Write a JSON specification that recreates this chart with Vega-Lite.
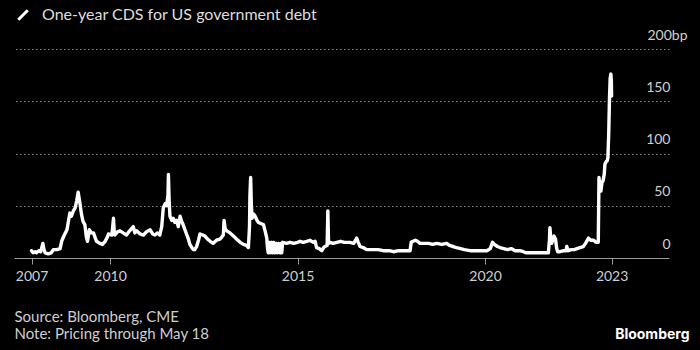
{
  "$schema": "https://vega.github.io/schema/vega-lite/v6.json",
  "width": 655,
  "height": 209,
  "autosize": {"type": "none"},
  "padding": {"left": 14, "top": 49, "right": 31, "bottom": 92},
  "background": "#000000",
  "config": {"view": {"stroke": null}, "font": "Lato"},
  "data": {"values": [
    {"date": "2007-11-28", "cds": 7}, {"date": "2007-12-13", "cds": 5}, {"date": "2008-01-01", "cds": 6}, {"date": "2008-01-15", "cds": 5},
    {"date": "2008-02-06", "cds": 7}, {"date": "2008-02-25", "cds": 6}, {"date": "2008-03-17", "cds": 14}, {"date": "2008-03-28", "cds": 8},
    {"date": "2008-04-08", "cds": 5}, {"date": "2008-05-08", "cds": 4}, {"date": "2008-06-07", "cds": 5}, {"date": "2008-06-28", "cds": 8},
    {"date": "2008-07-31", "cds": 8}, {"date": "2008-09-01", "cds": 9}, {"date": "2008-09-16", "cds": 16}, {"date": "2008-10-12", "cds": 22},
    {"date": "2008-11-07", "cds": 27}, {"date": "2008-12-05", "cds": 43}, {"date": "2008-12-20", "cds": 40}, {"date": "2009-01-08", "cds": 45},
    {"date": "2009-01-26", "cds": 48}, {"date": "2009-02-10", "cds": 55}, {"date": "2009-02-24", "cds": 63}, {"date": "2009-03-14", "cds": 52},
    {"date": "2009-03-28", "cds": 42}, {"date": "2009-04-12", "cds": 35}, {"date": "2009-04-30", "cds": 32}, {"date": "2009-05-15", "cds": 20},
    {"date": "2009-05-26", "cds": 16}, {"date": "2009-06-13", "cds": 27}, {"date": "2009-07-01", "cds": 24}, {"date": "2009-07-23", "cds": 24},
    {"date": "2009-08-21", "cds": 16}, {"date": "2009-09-23", "cds": 14}, {"date": "2009-10-19", "cds": 13}, {"date": "2009-11-14", "cds": 16},
    {"date": "2009-12-05", "cds": 20}, {"date": "2009-12-16", "cds": 23}, {"date": "2010-01-19", "cds": 22}, {"date": "2010-02-03", "cds": 38},
    {"date": "2010-02-10", "cds": 26}, {"date": "2010-02-17", "cds": 22}, {"date": "2010-03-14", "cds": 25}, {"date": "2010-04-08", "cds": 26},
    {"date": "2010-05-08", "cds": 24}, {"date": "2010-06-10", "cds": 22}, {"date": "2010-07-10", "cds": 26}, {"date": "2010-08-15", "cds": 30},
    {"date": "2010-08-30", "cds": 24}, {"date": "2010-09-17", "cds": 26}, {"date": "2010-10-20", "cds": 23}, {"date": "2010-11-22", "cds": 22},
    {"date": "2010-12-20", "cds": 25}, {"date": "2011-01-26", "cds": 27}, {"date": "2011-02-20", "cds": 23}, {"date": "2011-03-14", "cds": 22},
    {"date": "2011-04-08", "cds": 24}, {"date": "2011-04-30", "cds": 22}, {"date": "2011-05-19", "cds": 30}, {"date": "2011-06-03", "cds": 48},
    {"date": "2011-06-21", "cds": 52}, {"date": "2011-07-05", "cds": 50}, {"date": "2011-07-19", "cds": 60}, {"date": "2011-07-23", "cds": 80},
    {"date": "2011-07-30", "cds": 55}, {"date": "2011-08-07", "cds": 40}, {"date": "2011-08-25", "cds": 36}, {"date": "2011-09-09", "cds": 38},
    {"date": "2011-09-24", "cds": 34}, {"date": "2011-10-12", "cds": 36}, {"date": "2011-10-27", "cds": 30}, {"date": "2011-11-14", "cds": 40},
    {"date": "2011-11-29", "cds": 35}, {"date": "2011-12-13", "cds": 32}, {"date": "2012-01-15", "cds": 23}, {"date": "2012-02-03", "cds": 18},
    {"date": "2012-02-17", "cds": 13}, {"date": "2012-03-07", "cds": 10}, {"date": "2012-03-21", "cds": 8}, {"date": "2012-04-05", "cds": 8},
    {"date": "2012-04-23", "cds": 11}, {"date": "2012-05-11", "cds": 17}, {"date": "2012-05-26", "cds": 23}, {"date": "2012-06-21", "cds": 22},
    {"date": "2012-07-13", "cds": 21}, {"date": "2012-08-08", "cds": 18}, {"date": "2012-09-02", "cds": 16}, {"date": "2012-10-01", "cds": 14},
    {"date": "2012-11-03", "cds": 17}, {"date": "2012-12-06", "cds": 18}, {"date": "2012-12-24", "cds": 20}, {"date": "2013-01-08", "cds": 22},
    {"date": "2013-01-15", "cds": 36}, {"date": "2013-01-26", "cds": 28}, {"date": "2013-02-10", "cds": 26}, {"date": "2013-03-14", "cds": 24},
    {"date": "2013-04-16", "cds": 21}, {"date": "2013-05-19", "cds": 18}, {"date": "2013-06-21", "cds": 15}, {"date": "2013-07-23", "cds": 13},
    {"date": "2013-08-22", "cds": 12}, {"date": "2013-09-09", "cds": 10}, {"date": "2013-09-20", "cds": 30}, {"date": "2013-09-24", "cds": 60},
    {"date": "2013-10-01", "cds": 77}, {"date": "2013-10-08", "cds": 50}, {"date": "2013-10-16", "cds": 38}, {"date": "2013-10-30", "cds": 42},
    {"date": "2013-11-14", "cds": 40}, {"date": "2013-12-02", "cds": 36}, {"date": "2013-12-16", "cds": 34}, {"date": "2014-01-08", "cds": 33},
    {"date": "2014-02-03", "cds": 32}, {"date": "2014-02-21", "cds": 25}, {"date": "2014-03-07", "cds": 19}, {"date": "2014-03-14", "cds": 10},
    {"date": "2014-03-21", "cds": 5}, {"date": "2014-04-01", "cds": 15}, {"date": "2014-04-12", "cds": 5}, {"date": "2014-04-23", "cds": 15},
    {"date": "2014-05-05", "cds": 5}, {"date": "2014-05-15", "cds": 15}, {"date": "2014-05-26", "cds": 5}, {"date": "2014-06-07", "cds": 14},
    {"date": "2014-06-18", "cds": 5}, {"date": "2014-07-01", "cds": 14}, {"date": "2014-07-13", "cds": 5}, {"date": "2014-07-23", "cds": 14},
    {"date": "2014-07-31", "cds": 5}, {"date": "2014-08-08", "cds": 15}, {"date": "2014-09-16", "cds": 14}, {"date": "2014-10-19", "cds": 15},
    {"date": "2014-11-24", "cds": 14}, {"date": "2015-01-01", "cds": 15}, {"date": "2015-01-26", "cds": 16}, {"date": "2015-02-24", "cds": 15},
    {"date": "2015-04-01", "cds": 16}, {"date": "2015-05-01", "cds": 17}, {"date": "2015-06-03", "cds": 15}, {"date": "2015-06-21", "cds": 16},
    {"date": "2015-07-05", "cds": 10}, {"date": "2015-07-31", "cds": 9}, {"date": "2015-08-25", "cds": 7}, {"date": "2015-09-12", "cds": 10},
    {"date": "2015-09-24", "cds": 11}, {"date": "2015-10-16", "cds": 12}, {"date": "2015-10-23", "cds": 45}, {"date": "2015-10-30", "cds": 14},
    {"date": "2015-11-14", "cds": 15}, {"date": "2015-12-13", "cds": 14}, {"date": "2016-01-19", "cds": 15}, {"date": "2016-02-24", "cds": 16},
    {"date": "2016-04-01", "cds": 15}, {"date": "2016-05-26", "cds": 15}, {"date": "2016-07-01", "cds": 14}, {"date": "2016-07-19", "cds": 17},
    {"date": "2016-07-30", "cds": 19}, {"date": "2016-08-14", "cds": 15}, {"date": "2016-09-01", "cds": 11}, {"date": "2016-10-01", "cds": 10},
    {"date": "2016-11-03", "cds": 8}, {"date": "2017-01-01", "cds": 8}, {"date": "2017-02-24", "cds": 8}, {"date": "2017-04-16", "cds": 7},
    {"date": "2017-06-14", "cds": 7}, {"date": "2017-07-23", "cds": 6}, {"date": "2017-09-12", "cds": 7}, {"date": "2017-11-06", "cds": 7},
    {"date": "2018-01-01", "cds": 7}, {"date": "2018-01-12", "cds": 15}, {"date": "2018-01-30", "cds": 16}, {"date": "2018-02-21", "cds": 17},
    {"date": "2018-03-14", "cds": 16}, {"date": "2018-04-08", "cds": 14}, {"date": "2018-05-11", "cds": 14}, {"date": "2018-07-01", "cds": 14},
    {"date": "2018-08-08", "cds": 13}, {"date": "2018-09-16", "cds": 14}, {"date": "2018-11-07", "cds": 13}, {"date": "2018-12-24", "cds": 14},
    {"date": "2019-01-19", "cds": 12}, {"date": "2019-02-24", "cds": 11}, {"date": "2019-03-28", "cds": 10}, {"date": "2019-05-08", "cds": 9},
    {"date": "2019-06-14", "cds": 8}, {"date": "2019-08-08", "cds": 7}, {"date": "2019-10-01", "cds": 7}, {"date": "2019-11-24", "cds": 7},
    {"date": "2020-01-19", "cds": 7}, {"date": "2020-02-21", "cds": 9}, {"date": "2020-03-14", "cds": 15}, {"date": "2020-04-01", "cds": 13},
    {"date": "2020-05-01", "cds": 11}, {"date": "2020-05-26", "cds": 10}, {"date": "2020-07-01", "cds": 9}, {"date": "2020-08-08", "cds": 8},
    {"date": "2020-09-12", "cds": 9}, {"date": "2020-10-19", "cds": 7}, {"date": "2020-12-05", "cds": 7}, {"date": "2021-01-08", "cds": 6},
    {"date": "2021-02-06", "cds": 5}, {"date": "2021-03-14", "cds": 5}, {"date": "2021-05-08", "cds": 5}, {"date": "2021-07-01", "cds": 5},
    {"date": "2021-08-08", "cds": 5}, {"date": "2021-09-09", "cds": 5}, {"date": "2021-09-20", "cds": 18}, {"date": "2021-09-24", "cds": 29},
    {"date": "2021-10-05", "cds": 16}, {"date": "2021-10-12", "cds": 14}, {"date": "2021-10-27", "cds": 19}, {"date": "2021-11-03", "cds": 21},
    {"date": "2021-11-18", "cds": 18}, {"date": "2021-11-29", "cds": 9}, {"date": "2021-12-09", "cds": 6}, {"date": "2022-01-01", "cds": 6},
    {"date": "2022-02-06", "cds": 7}, {"date": "2022-02-28", "cds": 7}, {"date": "2022-03-07", "cds": 11}, {"date": "2022-03-21", "cds": 7},
    {"date": "2022-04-20", "cds": 8}, {"date": "2022-05-19", "cds": 8}, {"date": "2022-06-14", "cds": 9}, {"date": "2022-07-13", "cds": 10},
    {"date": "2022-08-15", "cds": 11}, {"date": "2022-09-06", "cds": 14}, {"date": "2022-10-05", "cds": 19}, {"date": "2022-10-27", "cds": 17},
    {"date": "2022-11-24", "cds": 17}, {"date": "2022-12-16", "cds": 15}, {"date": "2023-01-08", "cds": 15}, {"date": "2023-01-15", "cds": 77},
    {"date": "2023-01-26", "cds": 68}, {"date": "2023-02-03", "cds": 64}, {"date": "2023-02-13", "cds": 72}, {"date": "2023-02-24", "cds": 74},
    {"date": "2023-03-07", "cds": 80}, {"date": "2023-03-14", "cds": 90}, {"date": "2023-03-25", "cds": 92}, {"date": "2023-04-05", "cds": 93},
    {"date": "2023-04-12", "cds": 96}, {"date": "2023-04-20", "cds": 120}, {"date": "2023-04-27", "cds": 152}, {"date": "2023-05-04", "cds": 172},
    {"date": "2023-05-11", "cds": 176}, {"date": "2023-05-15", "cds": 170}, {"date": "2023-05-18", "cds": 155}
  ]},
  "mark": {"type": "line", "strokeWidth": 3.4, "strokeJoin": "round", "strokeCap": "round"},
  "encoding": {
    "x": {
      "field": "date", "type": "temporal",
      "scale": {"type": "utc", "domain": [{"year": 2007, "month": 6, "date": 10, "utc": true}, {"year": 2024, "month": 11, "date": 27, "utc": true}]},
      "axis": {
        "values": [
          {"year": 2007, "month": 11, "date": 28, "utc": true},
          {"year": 2010, "month": 1, "date": 1, "utc": true},
          {"year": 2015, "month": 1, "date": 1, "utc": true},
          {"year": 2020, "month": 1, "date": 1, "utc": true},
          {"year": 2023, "month": 5, "date": 18, "utc": true}
        ],
        "format": "%Y",
        "grid": false,
        "domainColor": "#9a9a9a", "domainWidth": 1,
        "tickColor": "#9a9a9a", "tickSize": 6,
        "labelColor": "#d0d0d0", "labelFontSize": 14, "labelFont": "Lato", "labelPadding": 5, "labelAngle": 0, "labelFlush": false,
        "title": ["Source: Bloomberg, CME", "Note: Pricing through May 18"],
        "titleX": 0, "titleY": 51, "titleAlign": "left", "titleAnchor": "start", "titleBaseline": "top",
        "titleLineHeight": 17, "titleFontWeight": "normal", "titleFontSize": 15, "titleFont": "Lato", "titleColor": "#cfcfcf"
      }
    },
    "y": {
      "field": "cds", "type": "quantitative",
      "scale": {"domain": [0, 200]},
      "axis": {
        "orient": "right",
        "values": [0, 50, 100, 150, 200],
        "domain": false, "ticks": false, "tickSize": 0,
        "labelAlign": "right",
        "labelPadding": {"condition": {"test": "datum.value == 200", "value": 18}, "value": 1},
        "labelBaseline": "middle",
        "labelOffset": -14,
        "labelExpr": "datum.value == 200 ? '200bp' : datum.label",
        "labelColor": "#d0d0d0", "labelFontSize": 14, "labelFont": "Lato",
        "grid": true, "gridColor": "#8a8a8a", "gridDash": [1.5, 2.5], "gridWidth": 1,
        "gridOpacity": {"condition": {"test": "datum.value == 0", "value": 0}, "value": 1},
        "title": "Bloomberg", "titleAngle": 0, "titleX": 20, "titleY": 285, "titleAlign": "right", "titleBaseline": "middle",
        "titleFont": "Inter", "titleFontWeight": "bold", "titleFontSize": 14, "titleColor": "#ffffff"
      }
    },
    "color": {
      "datum": "One-year CDS for US government debt",
      "type": "nominal",
      "scale": {"range": ["#ffffff"]},
      "legend": {
        "title": null, "orient": "none", "legendX": 1, "legendY": -42, "padding": 0,
        "symbolType": "M-1,1L1,-1", "symbolSize": 90, "symbolStrokeWidth": 3, "symbolStrokeColor": "#ffffff",
        "labelFont": "Lato", "labelFontSize": 16, "labelColor": "#dddddd", "labelOffset": 11, "labelLimit": 0
      }
    }
  }
}
